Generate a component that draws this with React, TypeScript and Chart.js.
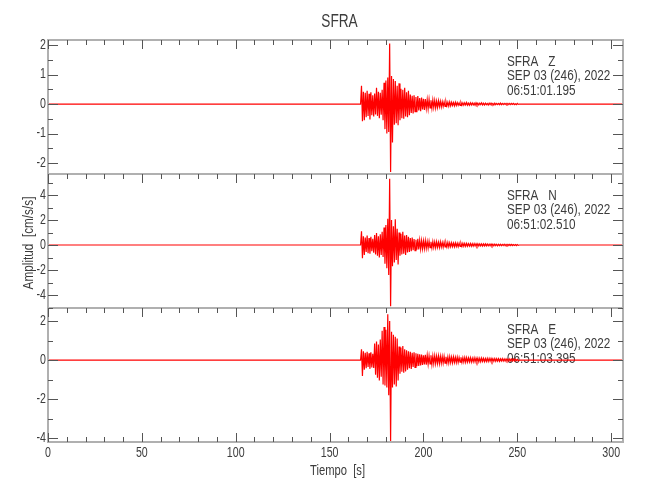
import React, { useEffect, useRef } from 'react';
import { Chart, registerables } from 'chart.js';

Chart.register(...registerables);

// ---------- data ----------
const STATION = 'SFRA';
const COMPONENTS = ['Z', 'N', 'E'];
const DATE_LABEL = 'SEP 03 (246), 2022';
const START_TIMES = ['06:51:01.195', '06:51:02.510', '06:51:03.395'];
const X_TITLE = 'Tiempo  [s]';
const Y_TITLE = 'Amplitud  [cm/s/s]';

const X_MIN = 0;
const X_MAX = 306.3;
const X_MAJOR = 50;
const X_MINOR = 10;

const Y_MIN = [-2.37, -5.04, -4.2];
const Y_MAX = [2.17, 5.68, 2.67];
const Y_MAJOR = [1, 2, 2];
const Y_MINOR = [0.5, 1, 1];

// envelope of the trace, one value per second starting at T_ONSET (s)
const T_ONSET = 167;

const Z_UP = [
  0.62, 0.42, 0.38, 0.45, 0.35, 0.40, 0.30, 0.36, 0.55, 0.42,
  0.38, 0.48, 0.72, 0.80, 0.90, 2.05, 0.95, 0.85, 0.78, 0.62,
  0.70, 0.52, 0.48, 0.55, 0.40, 0.45, 0.32, 0.28, 0.30, 0.24,
  0.27, 0.20, 0.22, 0.18, 0.17, 0.15, 0.16, 0.13, 0.14, 0.12,
  0.10, 0.11, 0.09, 0.08, 0.07, 0.08, 0.06, 0.07, 0.06, 0.05,
  0.06, 0.05, 0.04, 0.05, 0.04, 0.04, 0.05, 0.03, 0.04, 0.04,
  0.03, 0.04, 0.03, 0.03, 0.04, 0.03, 0.03, 0.02, 0.03, 0.03,
  0.02, 0.03, 0.02, 0.02, 0.03, 0.02, 0.02, 0.02, 0.02, 0.02,
  0.02, 0.02, 0.01, 0.02,
];
const Z_LO = [
  -0.58, -0.55, -0.45, -0.40, -0.52, -0.38, -0.42, -0.35, -0.40, -0.48,
  -0.36, -0.55, -0.85, -1.00, -0.95, -2.30, -1.30, -0.70, -0.65, -0.72,
  -0.55, -0.48, -0.50, -0.42, -0.45, -0.38, -0.30, -0.32, -0.26, -0.28,
  -0.22, -0.24, -0.18, -0.20, -0.15, -0.16, -0.13, -0.14, -0.12, -0.13,
  -0.11, -0.09, -0.10, -0.08, -0.08, -0.06, -0.07, -0.06, -0.05, -0.06,
  -0.05, -0.04, -0.05, -0.04, -0.04, -0.03, -0.04, -0.04, -0.03, -0.03,
  -0.04, -0.03, -0.03, -0.02, -0.03, -0.03, -0.02, -0.03, -0.02, -0.02,
  -0.03, -0.02, -0.02, -0.02, -0.02, -0.02, -0.01, -0.02, -0.02, -0.02,
  -0.01, -0.02, -0.02, -0.01,
];
const N_UP = [
  1.10, 0.70, 0.60, 0.75, 0.55, 0.65, 0.50, 0.80, 0.95, 0.70,
  0.85, 1.05, 1.40, 1.60, 2.10, 5.30, 2.00, 1.50, 2.05, 1.30,
  1.00, 0.90, 1.05, 0.75, 0.80, 0.65, 0.55, 0.60, 0.48, 0.42,
  0.50, 0.38, 0.35, 0.32, 0.36, 0.28, 0.30, 0.26, 0.28, 0.24,
  0.26, 0.22, 0.25, 0.20, 0.22, 0.18, 0.20, 0.17, 0.18, 0.15,
  0.16, 0.14, 0.15, 0.13, 0.14, 0.12, 0.13, 0.11, 0.12, 0.10,
  0.11, 0.10, 0.10, 0.09, 0.09, 0.08, 0.09, 0.08, 0.07, 0.08,
  0.07, 0.07, 0.06, 0.06, 0.06, 0.05, 0.06, 0.05, 0.05, 0.04,
  0.05, 0.04, 0.04, 0.04,
];
const N_LO = [
  -1.05, -0.80, -0.55, -0.65, -0.70, -0.50, -0.62, -0.75, -0.85, -1.00,
  -0.80, -0.95, -1.50, -1.85, -2.40, -4.90, -1.70, -1.40, -1.20, -1.55,
  -0.85, -0.75, -0.70, -0.80, -0.60, -0.55, -0.50, -0.42, -0.45, -0.38,
  -0.35, -0.32, -0.30, -0.28, -0.26, -0.25, -0.22, -0.24, -0.20, -0.22,
  -0.19, -0.20, -0.17, -0.18, -0.16, -0.15, -0.16, -0.14, -0.13, -0.14,
  -0.12, -0.13, -0.11, -0.12, -0.10, -0.11, -0.10, -0.09, -0.10, -0.09,
  -0.08, -0.09, -0.08, -0.07, -0.08, -0.07, -0.07, -0.06, -0.06, -0.07,
  -0.06, -0.05, -0.06, -0.05, -0.05, -0.04, -0.05, -0.04, -0.04, -0.04,
  -0.04, -0.03, -0.04, -0.03,
];
const E_UP = [
  0.55, 0.45, 0.38, 0.42, 0.35, 0.40, 0.32, 0.85, 0.95, 0.80,
  1.05, 1.50, 1.70, 1.55, 2.35, 2.00, 1.45, 1.30, 1.20, 1.10,
  0.70, 0.65, 0.72, 0.55, 0.50, 0.45, 0.42, 0.38, 0.40, 0.35,
  0.32, 0.30, 0.28, 0.25, 0.27, 0.24, 0.22, 0.25, 0.21, 0.22,
  0.20, 0.21, 0.19, 0.18, 0.19, 0.17, 0.16, 0.17, 0.15, 0.16,
  0.14, 0.15, 0.13, 0.14, 0.12, 0.13, 0.12, 0.11, 0.12, 0.10,
  0.11, 0.10, 0.10, 0.09, 0.10, 0.09, 0.08, 0.09, 0.08, 0.08,
  0.07, 0.08, 0.07, 0.07, 0.06, 0.07, 0.06, 0.06, 0.05, 0.06,
  0.05, 0.05, 0.05, 0.04,
];
const E_LO = [
  -0.82, -0.50, -0.42, -0.35, -0.45, -0.38, -0.40, -0.75, -0.90, -1.05,
  -0.85, -1.25, -1.30, -1.40, -1.80, -4.15, -1.40, -1.25, -1.35, -1.05,
  -0.70, -0.60, -0.65, -0.58, -0.50, -0.42, -0.45, -0.35, -0.38, -0.32,
  -0.30, -0.28, -0.25, -0.22, -0.24, -0.21, -0.20, -0.22, -0.19, -0.18,
  -0.17, -0.18, -0.16, -0.15, -0.16, -0.14, -0.15, -0.13, -0.14, -0.12,
  -0.13, -0.12, -0.11, -0.12, -0.10, -0.11, -0.10, -0.09, -0.10, -0.09,
  -0.09, -0.08, -0.09, -0.08, -0.07, -0.08, -0.07, -0.07, -0.06, -0.07,
  -0.06, -0.06, -0.05, -0.06, -0.05, -0.05, -0.05, -0.04, -0.05, -0.04,
  -0.04, -0.04, -0.03, -0.04,
];

const UPPER = [Z_UP, N_UP, E_UP];
const LOWER = [Z_LO, N_LO, E_LO];

// ---------- style ----------
const FONT = "'Liberation Sans', Arial, sans-serif";
const TEXT = '#3c3c3c';
const FRAME = '#b0b0b0';
const TICK = '#555555';
const TRACE = '#ff0000';
const AXIS_IDS = ['yZ', 'yN', 'yE'];

function buildTrace(up: number[], lo: number[]) {
  const pts: { x: number; y: number }[] = [{ x: X_MIN, y: 0 }, { x: T_ONSET - 0.5, y: 0 }];
  up.forEach((u, i) => {
    pts.push({ x: T_ONSET + i, y: u });
    pts.push({ x: T_ONSET + i + 0.5, y: lo[i] });
  });
  pts.push({ x: T_ONSET + up.length, y: 0 });
  pts.push({ x: X_MAX, y: 0 });
  return pts;
}

// draw text compressed horizontally (narrow plotting font look)
function drawNarrow(
  ctx: CanvasRenderingContext2D,
  s: string,
  x: number,
  y: number,
  size: number,
  sx: number,
  align: CanvasTextAlign,
) {
  ctx.save();
  ctx.translate(x, y);
  ctx.scale(sx, 1);
  ctx.font = `${size}px ${FONT}`;
  ctx.textAlign = align;
  ctx.textBaseline = 'middle';
  ctx.fillText(s, 0, 0);
  ctx.restore();
}

const decorPlugin = {
  id: 'seisDecor',
  beforeDatasetsDraw(chart: any) {
    const ctx = chart.ctx as CanvasRenderingContext2D;
    const area = chart.chartArea;
    ctx.save();
    ctx.fillStyle = TEXT;
    AXIS_IDS.forEach((id, k) => {
      const s = chart.scales[id];
      const x = area.left + 459;
      const y0 = s.top + 22;
      drawNarrow(ctx, `${STATION}   ${COMPONENTS[k]}`, x, y0, 14, 0.84, 'left');
      drawNarrow(ctx, DATE_LABEL, x, y0 + 14.5, 14, 0.84, 'left');
      drawNarrow(ctx, START_TIMES[k], x, y0 + 29, 14, 0.84, 'left');
    });
    ctx.restore();
  },
  afterDatasetsDraw(chart: any) {
    const ctx = chart.ctx as CanvasRenderingContext2D;
    const area = chart.chartArea;
    const xs = chart.scales.x;
    ctx.save();

    // frame
    ctx.strokeStyle = FRAME;
    ctx.lineWidth = 2;
    ctx.strokeRect(area.left, area.top, area.right - area.left, area.bottom - area.top);
    AXIS_IDS.forEach((id, k) => {
      if (k === 0) return;
      const s = chart.scales[id];
      ctx.beginPath();
      ctx.moveTo(area.left, Math.round(s.top));
      ctx.lineTo(area.right, Math.round(s.top));
      ctx.stroke();
    });

    // ticks
    ctx.strokeStyle = TICK;
    ctx.lineWidth = 1;
    const xTicks: number[] = [];
    for (let v = X_MIN; v <= X_MAX + 1e-9; v += X_MINOR) xTicks.push(v);
    AXIS_IDS.forEach((id, k) => {
      const s = chart.scales[id];
      const top = Math.round(s.top);
      xTicks.forEach((v) => {
        const px = Math.round(xs.getPixelForValue(v)) + 0.5;
        const len = v % X_MAJOR === 0 ? 9 : 5;
        ctx.beginPath();
        ctx.moveTo(px, top);
        ctx.lineTo(px, top + len);
        ctx.stroke();
      });
      const step = Y_MINOR[k];
      const start = Math.ceil(Y_MIN[k] / step) * step;
      for (let v = start; v <= Y_MAX[k] + 1e-9; v += step) {
        const py = Math.round(s.getPixelForValue(v)) + 0.5;
        const isMajor = Math.abs(v / Y_MAJOR[k] - Math.round(v / Y_MAJOR[k])) < 1e-6;
        const len = isMajor ? 10 : 5;
        ctx.beginPath();
        ctx.moveTo(area.left, py);
        ctx.lineTo(area.left + len, py);
        ctx.moveTo(area.right, py);
        ctx.lineTo(area.right - len, py);
        ctx.stroke();
      }
    });
    xTicks.forEach((v) => {
      const px = Math.round(xs.getPixelForValue(v)) + 0.5;
      const len = v % X_MAJOR === 0 ? 9 : 5;
      ctx.beginPath();
      ctx.moveTo(px, area.bottom);
      ctx.lineTo(px, area.bottom - len);
      ctx.stroke();
    });

    // tick labels (from the library's scales)
    ctx.fillStyle = TEXT;
    AXIS_IDS.forEach((id) => {
      const s = chart.scales[id];
      s.ticks.forEach((t: any) => {
        const py = s.getPixelForValue(t.value);
        drawNarrow(ctx, String(t.label), area.left - 2, py, 14, 0.76, 'right');
      });
    });
    xs.ticks.forEach((t: any) => {
      const px = xs.getPixelForValue(t.value);
      drawNarrow(ctx, String(t.label), px, area.bottom + 11, 14, 0.76, 'center');
    });

    // titles
    const cx = (area.left + area.right) / 2;
    drawNarrow(ctx, STATION, cx + 4, 22, 19, 0.72, 'center');
    drawNarrow(ctx, X_TITLE, cx + 2, 471, 14, 0.8, 'center');
    ctx.save();
    ctx.translate(29, 243);
    ctx.rotate(-Math.PI / 2);
    drawNarrow(ctx, Y_TITLE, 0, 0, 14, 0.84, 'center');
    ctx.restore();

    ctx.restore();
  },
};

function yScale(k: number) {
  return {
    type: 'linear' as const,
    position: 'left' as const,
    stack: 'panels',
    stackWeight: 1,
    weight: 3 - k,
    min: Y_MIN[k],
    max: Y_MAX[k],
    grid: { display: false, drawTicks: false },
    border: { display: false },
    ticks: {
      display: false,
      stepSize: Y_MAJOR[k],
      includeBounds: false,
    },
    afterFit: (s: any) => {
      s.width = 48;
    },
  };
}

export default function App() {
  const ref = useRef<HTMLCanvasElement | null>(null);
  useEffect(() => {
    if (!ref.current) return;
    const chart = new Chart(ref.current, {
      type: 'line',
      data: {
        datasets: AXIS_IDS.map((id, k) => ({
          label: COMPONENTS[k],
          data: buildTrace(UPPER[k], LOWER[k]),
          yAxisID: id,
          borderColor: TRACE,
          borderWidth: 1.2,
          pointRadius: 0,
          tension: 0,
          fill: false,
        })),
      },
      options: {
        animation: false,
        responsive: false,
        maintainAspectRatio: false,
        parsing: false,
        normalized: true,
        layout: { padding: { left: 0, top: 40, right: 27, bottom: 0 } },
        plugins: {
          legend: { display: false },
          tooltip: { enabled: false },
          title: { display: false },
        },
        scales: {
          x: {
            type: 'linear',
            position: 'bottom',
            min: X_MIN,
            max: X_MAX,
            grid: { display: false, drawTicks: false },
            border: { display: false },
            ticks: {
              display: false,
              stepSize: X_MAJOR,
              includeBounds: false,
              autoSkip: false,
            },
            afterFit: (s: any) => {
              s.height = 58;
            },
          },
          yZ: yScale(0),
          yN: yScale(1),
          yE: yScale(2),
        } as any,
      },
      plugins: [decorPlugin],
    } as any);
    return () => chart.destroy();
  }, []);
  return (
    <div style={{ position: 'absolute', left: 0, top: 0, width: 650, height: 500, background: '#fff' }}>
      <canvas ref={ref} width={650} height={500} style={{ width: 650, height: 500, display: 'block' }} />
    </div>
  );
}
